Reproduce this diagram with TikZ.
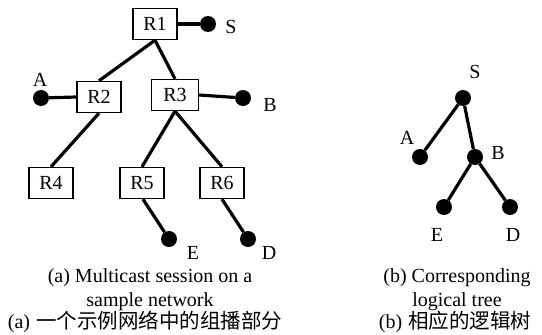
\documentclass[tikz,border=0pt]{standalone}
\usepackage{fontspec}
\setmainfont{Liberation Serif}
\newfontfamily\cjk{Noto Sans CJK SC}
\usetikzlibrary{positioning}

\begin{document}
\begin{tikzpicture}[x=1pt, y=-1pt,
    router/.style={draw, line width=1.4pt, fill=white, minimum width=44pt, minimum height=31pt, inner sep=0pt, font=\fontsize{20}{20}\selectfont},
    host/.style={circle, fill=black, minimum size=16pt, inner sep=0pt},
    link/.style={line width=3.2pt},
    lbl/.style={inner sep=0pt, font=\fontsize{20}{20}\selectfont},
    capt/.style={align=center, inner sep=0pt, font=\fontsize{20}{24}\selectfont}]
    \useasboundingbox (0,0) rectangle (542,335);

    % (a) Network
    \node[router] (r1) at (155,24) {R1};
    \node[router] (r2) at (99,97) {R2};
    \node[router, minimum width=47pt] (r3) at (175,95) {R3};
    \foreach \i/\x in {4/51, 5/142, 6/222} {
        \node[router] (r\i) at (\x,183) {R\i};
    }

    % Hosts
    \node[host] (hs) at (208,24) {};
    \node[host] (ha) at (41,98) {};
    \node[host] (hb) at (243,98) {};
    \node[host] (he) at (169,239) {};
    \node[host] (hd) at (248,239) {};
    \node[lbl] (ls) at (231,27) {S};
    \node[lbl] (la) at (40,80) {A};
    \node[lbl] (lb) at (270,105) {B};
    \node[lbl] (le) at (193,253) {E};
    \node[lbl] (ld) at (269,253) {D};

    % Links
    \draw[link] (r1.east) -- (hs);
    \draw[link] (ha) -- (r2.west);
    \draw[link] (r3.east) -- (hb);
    \foreach \a/\b in {r1/r2, r1/r3, r2/r4, r3/r5, r3/r6} {
        \draw[link] (\a.south) -- (\b.north);
    }
    \draw[link] ([xshift=1pt]r5.south) -- (he);
    \draw[link] (r6.south) -- (hd);

    % (b) Logical tree
    \node[host] (ts) at (463,98) {};
    \node[host] (ta) at (420,157) {};
    \node[host] (tb) at (475,157) {};
    \node[host] (te) at (444,207) {};
    \node[host] (td) at (510,207) {};
    \node[lbl] (lts) at (475,72) {S};
    \node[lbl] (lta) at (407,138) {A};
    \node[lbl] (ltb) at (498,153) {B};
    \node[lbl] (lte) at (437,235) {E};
    \node[lbl] (ltd) at (513,235) {D};
    \foreach \a/\b in {ts/ta, ts/tb, tb/te, tb/td} {
        \draw[link] (\a) -- (\b);
    }

    % Captions
    \node[capt] (capa) at (150,290) {(a) Multicast session on a\\sample network};
    \node[capt] (capb) at (457,290) {(b) Corresponding\\logical tree};
    \node[lbl, anchor=south] (cna) at (145,333) {(a)\hspace{6pt}{\cjk\fontsize{20.5}{20.5}\selectfont 一个示例网络中的组播部分}};
    \node[lbl, anchor=south] (cnb) at (455,333) {(b)\hspace{6pt}{\cjk\fontsize{20.5}{20.5}\selectfont 相应的逻辑树}};
\end{tikzpicture}
\end{document}
